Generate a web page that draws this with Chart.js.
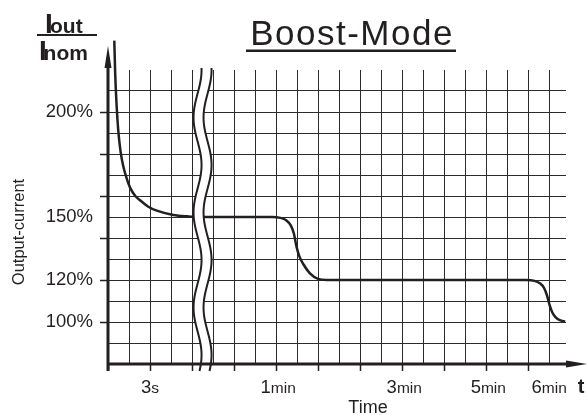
<!DOCTYPE html>
<html>
<head>
<meta charset="utf-8">
<script src="https://cdn.jsdelivr.net/npm/chart.js@4.4.1/dist/chart.umd.min.js"></script>
<style>
  html, body { margin: 0; padding: 0; background: #fff; }
  #wrap { position: relative; width: 587px; height: 415px; }
</style>
</head>
<body>
<div id="wrap"><canvas id="boost-chart"></canvas></div>
<script>
// x = position on the time axis in grid squares (the axis is not linear in time),
// y = output current in % of I_nom
const timeUnits = [0.30, 0.34, 0.40, 0.49, 0.60, 0.73, 0.90, 1.05, 1.30, 1.52, 1.90, 2.32, 3.11, 3.80, 4.38,
                   7.80, 8.20, 8.50, 8.70, 8.85, 8.97, 9.10, 9.30, 9.60, 10.0, 10.4,
                   19.9, 20.3, 20.55, 20.75, 20.9, 21.02, 21.15, 21.3, 21.5, 21.76];
const outputCurrent = [234, 219, 205, 191, 181, 174, 168, 164, 160, 158, 155, 153, 151, 150.3, 150,
                       150, 149.6, 148.3, 146, 142, 136, 131.5, 127.5, 123.3, 120.5, 120,
                       120, 119.6, 118.5, 116.3, 112.5, 108, 104.5, 102.3, 100.9, 100.2];

const yLabelValues = [100, 120, 150, 200];
const yTickMarks = [100, 120, 140, 160, 180, 200];

const xLabelPos = [2, 8.1, 14.1, 18.1, 21];
const xLabelNum = ['3', '1', '3', '5', '6'];
const xLabelUnit = ['s', 'min', 'min', 'min', 'min'];

const breakAt = 4.5;   // where the time axis is interrupted

const ink = '#231f20';
const gridInk = '#2b2b2b';
const FONT = "'Liberation Sans', Arial, sans-serif";

const boostDecor = {
    id: 'boostDecor',
    afterDatasetsDraw(chart) {
        const { ctx, chartArea: a, scales: { x, y } } = chart;
        const cx = x.getPixelForValue(breakAt);
        const top = a.top - 2;
        const wave = (yy, off) => cx + off + 4 * Math.cos((yy - a.top) * 2 * Math.PI / 95);

        ctx.save();
        // white gap of the axis break
        ctx.beginPath();
        for (let yy = top; yy <= a.bottom - 2; yy += 1) ctx.lineTo(wave(yy, -5), yy);
        for (let yy = a.bottom - 2; yy >= top; yy -= 1) ctx.lineTo(wave(yy, 5), yy);
        ctx.closePath();
        ctx.fillStyle = '#fff';
        ctx.fill();

        // axes with arrows
        const x0 = x.getPixelForValue(0);
        const y0 = y.getPixelForValue(80);
        ctx.strokeStyle = ink;
        ctx.fillStyle = ink;
        ctx.lineWidth = 3;
        ctx.beginPath();
        ctx.moveTo(x0 - 1.5, y0);
        ctx.lineTo(chart.width - 16, y0);
        ctx.moveTo(x0, y0 + 7);
        ctx.lineTo(x0, 64);
        ctx.stroke();
        ctx.beginPath();
        ctx.moveTo(chart.width, y0);
        ctx.lineTo(chart.width - 21, y0 - 3.5);
        ctx.lineTo(chart.width - 21, y0 + 3.5);
        ctx.closePath();
        ctx.fill();
        ctx.beginPath();
        ctx.moveTo(x0, 46);
        ctx.lineTo(x0 - 3.5, 68);
        ctx.lineTo(x0 + 3.5, 68);
        ctx.closePath();
        ctx.fill();

        // wavy break lines
        ctx.lineWidth = 2;
        [-5, 5].forEach(off => {
            ctx.beginPath();
            for (let yy = top; yy <= a.bottom + 7; yy += 1) ctx.lineTo(wave(yy, off), yy);
            ctx.stroke();
        });
        ctx.restore();
    },
    afterDraw(chart) {
        const { ctx, scales: { x } } = chart;
        ctx.save();
        ctx.fillStyle = ink;
        ctx.textBaseline = 'alphabetic';

        // title
        ctx.font = `35px ${FONT}`;
        ctx.textAlign = 'center';
        if ('letterSpacing' in ctx) ctx.letterSpacing = '1.5px';
        ctx.fillText('Boost-Mode', 352, 45);
        if ('letterSpacing' in ctx) ctx.letterSpacing = '0px';
        ctx.fillRect(246, 49.5, 210, 2.5);

        // I_out / I_nom
        ctx.textAlign = 'left';
        ctx.font = `bold 28px ${FONT}`;
        ctx.fillText('I', 45, 33);
        ctx.fillText('I', 39, 59.5);
        ctx.font = `bold 21px ${FONT}`;
        ctx.fillText('out', 50, 33);
        ctx.fillText('nom', 43.6, 59.5);
        ctx.fillRect(37, 34, 60, 2);

        // time labels with small units
        xLabelPos.forEach((p, i) => {
            ctx.font = `18.5px ${FONT}`;
            const wn = ctx.measureText(xLabelNum[i]).width;
            ctx.font = `15.5px ${FONT}`;
            const wu = ctx.measureText(xLabelUnit[i]).width;
            const left = x.getPixelForValue(p) - (wn + wu) / 2;
            ctx.font = `18.5px ${FONT}`;
            ctx.fillText(xLabelNum[i], left, 393);
            ctx.font = `15.5px ${FONT}`;
            ctx.fillText(xLabelUnit[i], left + wn, 393);
        });

        ctx.textAlign = 'center';
        ctx.font = `bold 20px ${FONT}`;
        ctx.fillText('t', 581, 393);
        ctx.font = `18px ${FONT}`;
        ctx.fillText('Time', 368, 413);

        ctx.translate(19, 232);
        ctx.rotate(-Math.PI / 2);
        ctx.textBaseline = 'middle';
        ctx.font = `16.5px ${FONT}`;
        ctx.fillText('Output-current', 0, 0);
        ctx.restore();
    }
};

const ctx = document.getElementById('boost-chart').getContext('2d');
new Chart(ctx, {
    type: 'line',
    data: {
        datasets: [{
            data: timeUnits.map((t, i) => ({ x: t, y: outputCurrent[i] })),
            borderColor: ink,
            borderWidth: 2.5,
            pointRadius: 0,
            cubicInterpolationMode: 'monotone',
            fill: false,
            clip: false
        }]
    },
    options: {
        responsive: true,
        maintainAspectRatio: false,
        animation: false,
        layout: { padding: { top: 70, right: 21, bottom: 0, left: 0 } },
        plugins: {
            legend: { display: false },
            tooltip: { enabled: false },
            title: { display: false }
        },
        scales: {
            x: {
                type: 'linear',
                min: 0,
                max: 21.8,
                ticks: { stepSize: 1, includeBounds: false, autoSkip: false, callback: () => '' },
                grid: {
                    color: gridInk,
                    lineWidth: 1,
                    tickLength: 7,
                    tickWidth: 1.5,
                    tickColor: c => (c.tick && c.tick.value % 2 === 0) ? ink : 'transparent'
                },
                border: { display: false },
                afterFit: s => { s.height = 51; }
            },
            y: {
                min: 80,
                max: 220,
                ticks: {
                    stepSize: 10,
                    autoSkip: false,
                    padding: 7,
                    color: ink,
                    font: { family: FONT, size: 18.5 },
                    callback: v => yLabelValues.includes(v) ? v + '%' : ''
                },
                grid: {
                    color: c => (c.tick && c.tick.value >= 220) ? 'transparent' : gridInk,
                    lineWidth: 1,
                    tickLength: 8,
                    tickWidth: 1.5,
                    tickColor: c => (c.tick && yTickMarks.includes(c.tick.value)) ? ink : 'transparent'
                },
                border: { display: false },
                afterFit: s => { s.width = 108; }
            }
        }
    },
    plugins: [boostDecor]
});
</script>
</body>
</html>
